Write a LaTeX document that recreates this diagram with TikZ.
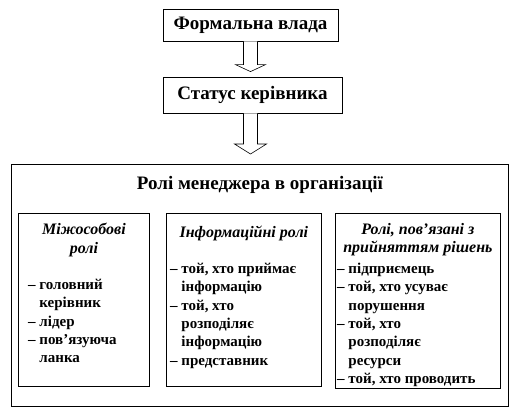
\documentclass[tikz,border=0pt]{standalone}
\usepackage{fontspec}
\setmainfont{Liberation Serif}
\usetikzlibrary{calc, positioning}
\newcommand{\rolecont}{\hphantom{–\ }}

\begin{document}
\begin{tikzpicture}[x=1pt, y=-1pt,
  headbox/.style={draw, line width=0.8pt, inner sep=0pt,
    font=\fontsize{19}{21}\selectfont\bfseries},
  rolebox/.style={draw, line width=0.8pt, anchor=north west, inner sep=0pt},
  roletitle/.style={anchor=north, inner sep=0pt, align=center,
    font=\fontsize{16}{18.5}\selectfont\bfseries\itshape},
  rolelist/.style={anchor=north west, inner sep=0pt, align=flush left,
    font=\fontsize{15}{18.3}\selectfont\bfseries},
  blockarw/.style={draw, fill=white, line width=0.6pt},
]
\useasboundingbox (0,0) rectangle (518,416);
\node[headbox, minimum width=175pt, minimum height=32pt] (fv) at (250.5,25) {Формальна влада};
\node[headbox, minimum width=179pt, minimum height=36pt] (sk) at (252.5,95) {Статус керівника};
\node[rolebox, minimum width=497pt, minimum height=242pt] (rm) at (11,164) {};
\node[headbox, draw=none] (rmt) at (260,185) {Ролі менеджера в організації};

\node[rolebox, minimum width=131pt, minimum height=173pt] (r1) at (18,213) {};
\node[rolebox, minimum width=155pt, minimum height=173pt] (r2) at (166,213) {};
\node[rolebox, minimum width=165pt, minimum height=175pt] (r3) at (335,213) {};

\node[roletitle] (r1t) at ($(r1.north)+(0,10)$) {Міжособові\\ролі};
\node[rolelist] (r1l) at ($(r1.north west)+(10,66)$) {%
  – головний\\\rolecont керівник\\– лідер\\– пов’язуюча\\\rolecont ланка};

\node[roletitle] (r2t) at ($(r2.north)+(0,13)$) {Інформаційні ролі};
\node[rolelist] (r2l) at ($(r2.north west)+(4,50)$) {%
  – той, хто приймає\\\rolecont інформацію\\– той, хто\\\rolecont розподіляє\\%
  \rolecont інформацію\\– представник};

\node[roletitle] (r3t) at ($(r3.north)+(0,10)$) {Ролі, пов’язані з\\прийняттям рішень};
\node[rolelist] (r3l) at ($(r3.north west)+(2,50)$) {%
  – підприємець\\– той, хто усуває\\\rolecont порушення\\– той, хто\\%
  \rolecont розподіляє\\\rolecont ресурси\\– той, хто проводить};

\draw[blockarw] ($(fv.south)+(-7,0)$) -- ($(fv.south |- sk.north)+(-7,-12)$)
  -- ($(fv.south |- sk.north)+(-15,-12)$) -- ($(fv.south |- sk.north)+(0,-5)$)
  -- ($(fv.south |- sk.north)+(15,-12)$) -- ($(fv.south |- sk.north)+(7,-12)$)
  -- ($(fv.south)+(7,0)$);
\draw[blockarw] ($(fv.south |- sk.south)+(-7,0)$) -- ($(fv.south |- rm.north)+(-7,-20)$)
  -- ($(fv.south |- rm.north)+(-16,-20)$) -- ($(fv.south |- rm.north)+(0,-10)$)
  -- ($(fv.south |- rm.north)+(16,-20)$) -- ($(fv.south |- rm.north)+(7,-20)$)
  -- ($(fv.south |- sk.south)+(7,0)$);
\end{tikzpicture}
\end{document}
